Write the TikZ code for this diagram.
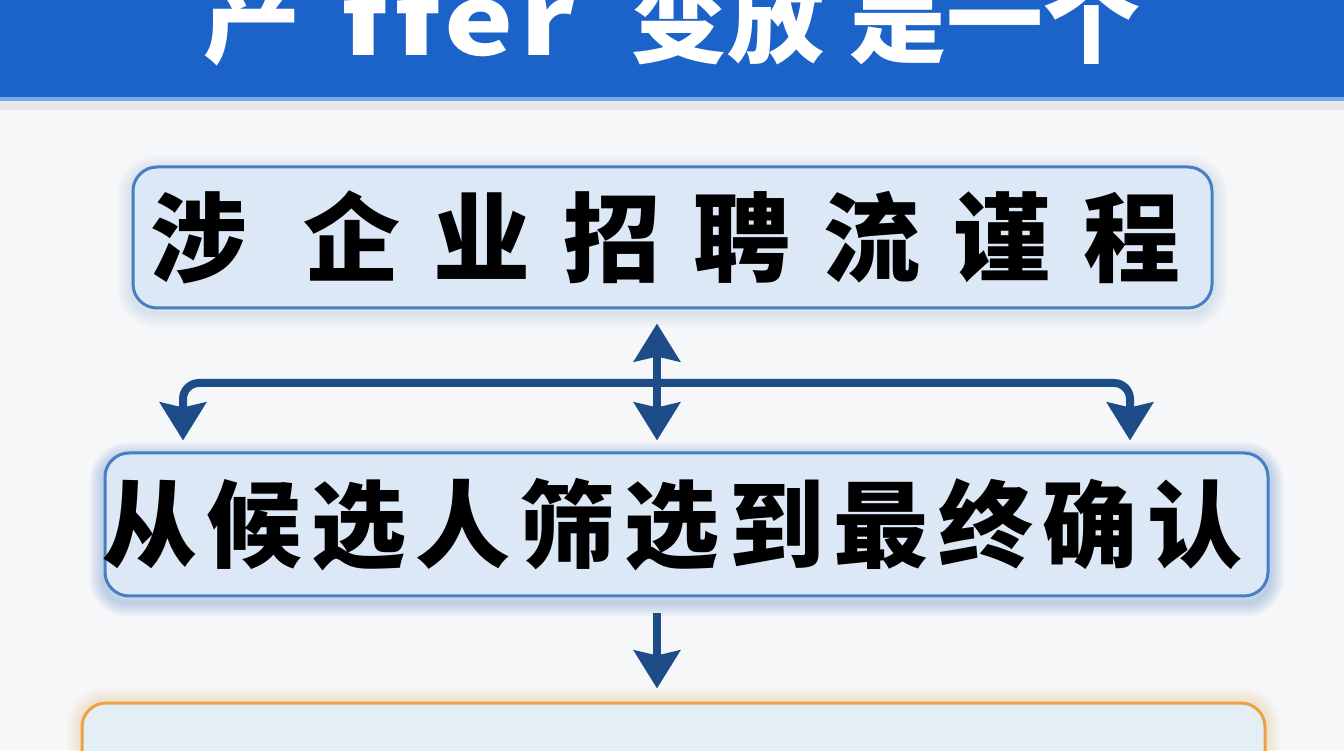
\documentclass[tikz,border=0pt]{standalone}
\usepackage{fontspec}
\newfontfamily\cjk{Noto Sans CJK SC}
\usetikzlibrary{arrows.meta,backgrounds}

\definecolor{bgColor}{RGB}{246,247,249}
\definecolor{bannerBlue}{RGB}{28,99,201}
\definecolor{bannerEdge}{RGB}{120,170,232}
\definecolor{boxFill}{RGB}{220,232,246}
\definecolor{boxLine}{RGB}{72,126,196}
\definecolor{arrColor}{RGB}{30,76,136}
\definecolor{orangeLine}{RGB}{234,163,62}
\definecolor{lastFill}{RGB}{228,238,245}

\begin{document}
\begin{tikzpicture}[x=1pt,y=1pt,
  box/.style={draw=boxLine,line width=3pt,rounded corners=24pt,fill=boxFill,
    inner sep=0pt,text=black,font=\cjk\bfseries\fontsize{97}{100}\selectfont},
  ttl/.style={text=white,anchor=base,inner sep=0pt,
    font=\cjk\bfseries\fontsize{97}{100}\selectfont},
  arr/.style={draw=arrColor,line width=8pt,-{Stealth[length=38pt,width=46pt,inset=5pt]}},
  dbl/.style={draw=arrColor,line width=8pt,
    {Stealth[length=38pt,width=46pt,inset=5pt]}-{Stealth[length=38pt,width=46pt,inset=5pt]}},
  glow/.style={line width=#1,opacity=0.05,rounded corners=24pt}]
\useasboundingbox (0,0) rectangle (1344,750);
\begin{scope}
\clip (0,0) rectangle (1344,750);

% banner and title
\fill[bannerBlue] (0,653) rectangle (1344,750);
\fill[bannerEdge] (0,649) rectangle (1344,653);
\node[ttl] (t1) at (252,694) {产};
\node[ttl,xscale=1.2] (t2) at (458,694) {\addfontfeature{Ligatures=NoCommon,LetterSpace=5}ffer};
\node[ttl] (t3) at (727,694) {变放};
\node[ttl] (t4) at (995,694) {是一个};

% boxes
\node[box,minimum width=1079pt,minimum height=141pt] (steps) at (672.5,512.5)
  {\kern-14pt\addfontfeature{LetterSpace=34}涉 企业招聘流谨程};
\node[box,minimum width=1163pt,minimum height=143pt,
  font=\cjk\bfseries\fontsize{95}{100}\selectfont] (cand) at (686.5,225.5)
  {\kern-28pt\addfontfeature{LetterSpace=10}从候选人筛选到最终确认};
\node[box,draw=orangeLine,fill=lastFill,minimum width=1183pt,minimum height=140pt] (next)
  at (673.5,-23) {};

% connectors
\coordinate (hub) at (657,367);
\coordinate (lft) at (183,367);
\coordinate (rgt) at (1130,367);
\draw[dbl,shorten <=14pt,shorten >=11pt] (steps.south -| hub) -- (cand.north -| hub);
\draw[arr,rounded corners=16pt,shorten >=11pt] (hub) -| (cand.north -| lft);
\draw[arr,rounded corners=16pt,shorten >=11pt] (hub) -| (cand.north -| rgt);
\draw[arr,shorten <=16pt,shorten >=13pt] (cand.south -| hub) -- (next.north -| hub);

\begin{pgfonlayer}{background}
\fill[bgColor] (0,0) rectangle (1344,750);
\fill[black,opacity=0.06] (0,640) rectangle (1344,649);
\foreach \g in {4,8,...,28}{
  \draw[glow=\g pt,boxLine] ([yshift=-5pt]cand.south west) rectangle ([yshift=-5pt]cand.north east);
  \draw[glow=\g pt,boxLine,opacity=0.025] ([yshift=-4pt]steps.south west) rectangle ([yshift=-4pt]steps.north east);
  \draw[glow=\g pt,orangeLine,opacity=0.03] (next.south west) rectangle (next.north east);
}
\end{pgfonlayer}
\end{scope}
\end{tikzpicture}
\end{document}
